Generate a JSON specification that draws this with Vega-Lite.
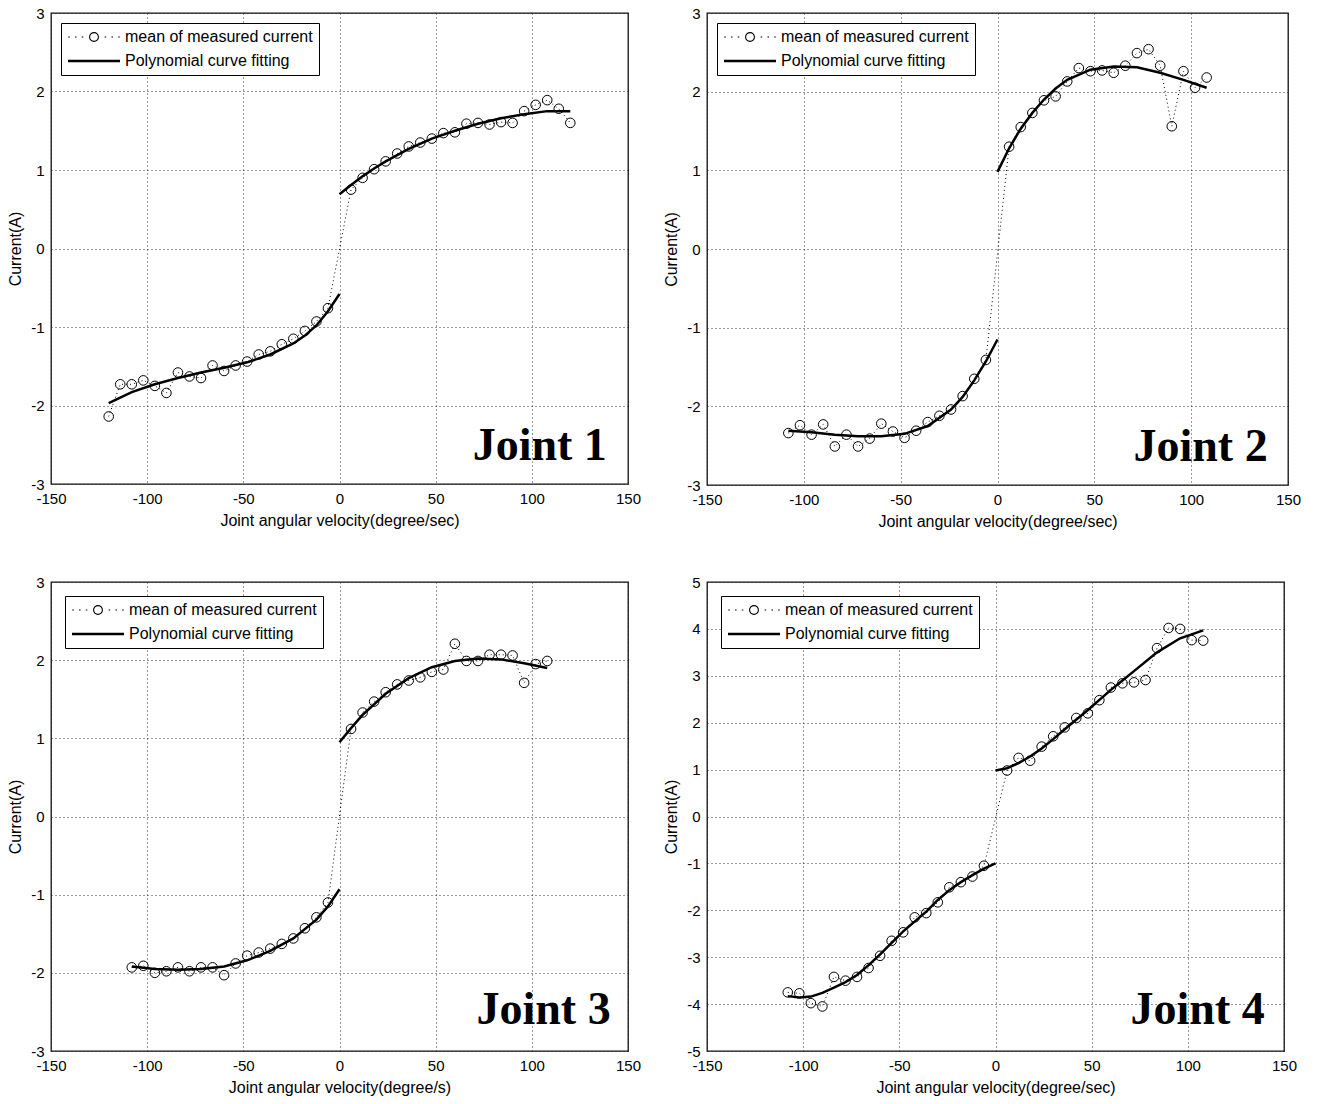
{
  "$schema": "https://vega.github.io/schema/vega-lite/v6.json",
  "background": "white",
  "padding": {"left": 7, "top": 5, "right": 5, "bottom": 5},
  "columns": 2,
  "spacing": {"row": 97, "column": 79},
  "bounds": "flush",
  "resolve": {"scale": {"x": "independent", "y": "independent", "shape": "independent"}, "legend": {"shape": "independent"}},
  "config": {
    "view": {"stroke": "#111", "strokeWidth": 1.3},
    "font": "Liberation Sans",
    "axis": {"grid": true, "gridColor": "#222", "gridDash": [1, 3], "gridWidth": 1, "gridOpacity": 0.9, "ticks": false, "domain": false, "labelFont": "Liberation Sans", "labelFontSize": 15, "labelColor": "black", "titleFont": "Liberation Sans", "titleFontSize": 16, "titleFontWeight": "normal", "titleColor": "black", "labelPadding": 7, "titlePadding": 6, "labelFlush": false, "labelOverlap": false, "labelExpr": "'' + datum.value"},
    "axisY": {"labelPadding": 7, "titlePadding": 7},
    "legend": {"orient": "top-left", "offset": 10, "strokeColor": "black", "fillColor": "white", "padding": 6, "labelFont": "Liberation Sans", "labelFontSize": 16, "labelColor": "black", "labelOffset": 4, "symbolSize": 2704, "clipHeight": 16, "rowPadding": 8, "labelLimit": 400, "symbolStrokeWidth": 1.1, "symbolStrokeColor": "black", "symbolFillColor": "transparent", "symbolOpacity": 1}
  },
  "datasets": {
    "pts": [
      {"j":1,"v":-120,"c":-2.14},{"j":1,"v":-114,"c":-1.73},{"j":1,"v":-108,"c":-1.73},{"j":1,"v":-102,"c":-1.68},{"j":1,"v":-96,"c":-1.75},{"j":1,"v":-90,"c":-1.84},{"j":1,"v":-84,"c":-1.58},{"j":1,"v":-78,"c":-1.63},{"j":1,"v":-72,"c":-1.65},{"j":1,"v":-66,"c":-1.49},{"j":1,"v":-60,"c":-1.56},{"j":1,"v":-54,"c":-1.49},{"j":1,"v":-48,"c":-1.44},{"j":1,"v":-42,"c":-1.35},{"j":1,"v":-36,"c":-1.31},{"j":1,"v":-30,"c":-1.22},{"j":1,"v":-24,"c":-1.15},{"j":1,"v":-18,"c":-1.05},{"j":1,"v":-12,"c":-0.93},{"j":1,"v":-6,"c":-0.76},
      {"j":1,"v":6,"c":0.75},{"j":1,"v":12,"c":0.90},{"j":1,"v":18,"c":1.01},{"j":1,"v":24,"c":1.11},{"j":1,"v":30,"c":1.21},{"j":1,"v":36,"c":1.30},{"j":1,"v":42,"c":1.35},{"j":1,"v":48,"c":1.40},{"j":1,"v":54,"c":1.47},{"j":1,"v":60,"c":1.48},{"j":1,"v":66,"c":1.59},{"j":1,"v":72,"c":1.60},{"j":1,"v":78,"c":1.58},{"j":1,"v":84,"c":1.61},{"j":1,"v":90,"c":1.60},{"j":1,"v":96,"c":1.75},{"j":1,"v":102,"c":1.83},{"j":1,"v":108,"c":1.89},{"j":1,"v":114,"c":1.78},{"j":1,"v":120,"c":1.60},
      {"j":2,"v":-108,"c":-2.34},{"j":2,"v":-102,"c":-2.24},{"j":2,"v":-96,"c":-2.36},{"j":2,"v":-90,"c":-2.23},{"j":2,"v":-84,"c":-2.51},{"j":2,"v":-78,"c":-2.36},{"j":2,"v":-72,"c":-2.51},{"j":2,"v":-66,"c":-2.41},{"j":2,"v":-60,"c":-2.22},{"j":2,"v":-54,"c":-2.32},{"j":2,"v":-48,"c":-2.40},{"j":2,"v":-42,"c":-2.31},{"j":2,"v":-36,"c":-2.20},{"j":2,"v":-30,"c":-2.12},{"j":2,"v":-24,"c":-2.04},{"j":2,"v":-18,"c":-1.87},{"j":2,"v":-12,"c":-1.65},{"j":2,"v":-6,"c":-1.41},
      {"j":2,"v":6,"c":1.30},{"j":2,"v":12,"c":1.55},{"j":2,"v":18,"c":1.73},{"j":2,"v":24,"c":1.89},{"j":2,"v":30,"c":1.94},{"j":2,"v":36,"c":2.13},{"j":2,"v":42,"c":2.30},{"j":2,"v":48,"c":2.26},{"j":2,"v":54,"c":2.27},{"j":2,"v":60,"c":2.24},{"j":2,"v":66,"c":2.33},{"j":2,"v":72,"c":2.49},{"j":2,"v":78,"c":2.54},{"j":2,"v":84,"c":2.33},{"j":2,"v":90,"c":1.56},{"j":2,"v":96,"c":2.26},{"j":2,"v":102,"c":2.05},{"j":2,"v":108,"c":2.18},
      {"j":3,"v":-108,"c":-1.93},{"j":3,"v":-102,"c":-1.91},{"j":3,"v":-96,"c":-2.00},{"j":3,"v":-90,"c":-1.98},{"j":3,"v":-84,"c":-1.93},{"j":3,"v":-78,"c":-1.98},{"j":3,"v":-72,"c":-1.93},{"j":3,"v":-66,"c":-1.93},{"j":3,"v":-60,"c":-2.03},{"j":3,"v":-54,"c":-1.88},{"j":3,"v":-48,"c":-1.78},{"j":3,"v":-42,"c":-1.74},{"j":3,"v":-36,"c":-1.69},{"j":3,"v":-30,"c":-1.63},{"j":3,"v":-24,"c":-1.56},{"j":3,"v":-18,"c":-1.43},{"j":3,"v":-12,"c":-1.29},{"j":3,"v":-6,"c":-1.10},
      {"j":3,"v":6,"c":1.12},{"j":3,"v":12,"c":1.33},{"j":3,"v":18,"c":1.47},{"j":3,"v":24,"c":1.59},{"j":3,"v":30,"c":1.69},{"j":3,"v":36,"c":1.74},{"j":3,"v":42,"c":1.78},{"j":3,"v":48,"c":1.85},{"j":3,"v":54,"c":1.88},{"j":3,"v":60,"c":2.21},{"j":3,"v":66,"c":1.99},{"j":3,"v":72,"c":1.99},{"j":3,"v":78,"c":2.07},{"j":3,"v":84,"c":2.07},{"j":3,"v":90,"c":2.06},{"j":3,"v":96,"c":1.71},{"j":3,"v":102,"c":1.95},{"j":3,"v":108,"c":1.99},
      {"j":4,"v":-108,"c":-3.75},{"j":4,"v":-102,"c":-3.77},{"j":4,"v":-96,"c":-3.98},{"j":4,"v":-90,"c":-4.05},{"j":4,"v":-84,"c":-3.42},{"j":4,"v":-78,"c":-3.50},{"j":4,"v":-72,"c":-3.42},{"j":4,"v":-66,"c":-3.23},{"j":4,"v":-60,"c":-2.97},{"j":4,"v":-54,"c":-2.65},{"j":4,"v":-48,"c":-2.47},{"j":4,"v":-42,"c":-2.15},{"j":4,"v":-36,"c":-2.06},{"j":4,"v":-30,"c":-1.83},{"j":4,"v":-24,"c":-1.51},{"j":4,"v":-18,"c":-1.40},{"j":4,"v":-12,"c":-1.28},{"j":4,"v":-6,"c":-1.05},
      {"j":4,"v":6,"c":0.98},{"j":4,"v":12,"c":1.25},{"j":4,"v":18,"c":1.19},{"j":4,"v":24,"c":1.49},{"j":4,"v":30,"c":1.71},{"j":4,"v":36,"c":1.90},{"j":4,"v":42,"c":2.10},{"j":4,"v":48,"c":2.20},{"j":4,"v":54,"c":2.48},{"j":4,"v":60,"c":2.75},{"j":4,"v":66,"c":2.84},{"j":4,"v":72,"c":2.86},{"j":4,"v":78,"c":2.91},{"j":4,"v":84,"c":3.59},{"j":4,"v":90,"c":4.02},{"j":4,"v":96,"c":4.00},{"j":4,"v":102,"c":3.76},{"j":4,"v":108,"c":3.75}
    ],
    "fit": [
      {"j":1,"b":"n","v":-120,"c":-1.97},{"j":1,"b":"n","v":-108,"c":-1.83},{"j":1,"b":"n","v":-96,"c":-1.73},{"j":1,"b":"n","v":-84,"c":-1.65},{"j":1,"b":"n","v":-72,"c":-1.58},{"j":1,"b":"n","v":-60,"c":-1.52},{"j":1,"b":"n","v":-48,"c":-1.45},{"j":1,"b":"n","v":-36,"c":-1.35},{"j":1,"b":"n","v":-24,"c":-1.21},{"j":1,"b":"n","v":-18,"c":-1.11},{"j":1,"b":"n","v":-12,"c":-0.98},{"j":1,"b":"n","v":-6,"c":-0.80},{"j":1,"b":"n","v":0,"c":-0.58},
      {"j":1,"b":"p","v":0,"c":0.69},{"j":1,"b":"p","v":6,"c":0.81},{"j":1,"b":"p","v":12,"c":0.92},{"j":1,"b":"p","v":18,"c":1.02},{"j":1,"b":"p","v":24,"c":1.11},{"j":1,"b":"p","v":36,"c":1.27},{"j":1,"b":"p","v":48,"c":1.40},{"j":1,"b":"p","v":60,"c":1.50},{"j":1,"b":"p","v":72,"c":1.59},{"j":1,"b":"p","v":84,"c":1.66},{"j":1,"b":"p","v":96,"c":1.71},{"j":1,"b":"p","v":108,"c":1.75},{"j":1,"b":"p","v":120,"c":1.75},
      {"j":2,"b":"n","v":-108,"c":-2.31},{"j":2,"b":"n","v":-96,"c":-2.33},{"j":2,"b":"n","v":-84,"c":-2.36},{"j":2,"b":"n","v":-72,"c":-2.38},{"j":2,"b":"n","v":-60,"c":-2.38},{"j":2,"b":"n","v":-48,"c":-2.35},{"j":2,"b":"n","v":-36,"c":-2.25},{"j":2,"b":"n","v":-24,"c":-2.04},{"j":2,"b":"n","v":-18,"c":-1.88},{"j":2,"b":"n","v":-12,"c":-1.67},{"j":2,"b":"n","v":-6,"c":-1.43},{"j":2,"b":"n","v":0,"c":-1.15},
      {"j":2,"b":"p","v":0,"c":0.98},{"j":2,"b":"p","v":6,"c":1.28},{"j":2,"b":"p","v":12,"c":1.53},{"j":2,"b":"p","v":18,"c":1.73},{"j":2,"b":"p","v":24,"c":1.90},{"j":2,"b":"p","v":30,"c":2.04},{"j":2,"b":"p","v":36,"c":2.15},{"j":2,"b":"p","v":48,"c":2.28},{"j":2,"b":"p","v":60,"c":2.32},{"j":2,"b":"p","v":72,"c":2.31},{"j":2,"b":"p","v":84,"c":2.24},{"j":2,"b":"p","v":96,"c":2.15},{"j":2,"b":"p","v":108,"c":2.05},
      {"j":3,"b":"n","v":-108,"c":-1.92},{"j":3,"b":"n","v":-96,"c":-1.95},{"j":3,"b":"n","v":-84,"c":-1.96},{"j":3,"b":"n","v":-72,"c":-1.95},{"j":3,"b":"n","v":-60,"c":-1.92},{"j":3,"b":"n","v":-48,"c":-1.84},{"j":3,"b":"n","v":-36,"c":-1.72},{"j":3,"b":"n","v":-24,"c":-1.56},{"j":3,"b":"n","v":-12,"c":-1.32},{"j":3,"b":"n","v":-6,"c":-1.15},{"j":3,"b":"n","v":0,"c":-0.93},
      {"j":3,"b":"p","v":0,"c":0.95},{"j":3,"b":"p","v":6,"c":1.13},{"j":3,"b":"p","v":12,"c":1.30},{"j":3,"b":"p","v":24,"c":1.57},{"j":3,"b":"p","v":36,"c":1.77},{"j":3,"b":"p","v":48,"c":1.91},{"j":3,"b":"p","v":60,"c":1.99},{"j":3,"b":"p","v":72,"c":2.02},{"j":3,"b":"p","v":84,"c":2.01},{"j":3,"b":"p","v":96,"c":1.96},{"j":3,"b":"p","v":108,"c":1.90},
      {"j":4,"b":"n","v":-108,"c":-3.83},{"j":4,"b":"n","v":-102,"c":-3.86},{"j":4,"b":"n","v":-96,"c":-3.84},{"j":4,"b":"n","v":-90,"c":-3.76},{"j":4,"b":"n","v":-84,"c":-3.65},{"j":4,"b":"n","v":-78,"c":-3.53},{"j":4,"b":"n","v":-72,"c":-3.38},{"j":4,"b":"n","v":-66,"c":-3.17},{"j":4,"b":"n","v":-60,"c":-2.94},{"j":4,"b":"n","v":-48,"c":-2.45},{"j":4,"b":"n","v":-36,"c":-2.03},{"j":4,"b":"n","v":-30,"c":-1.78},{"j":4,"b":"n","v":-24,"c":-1.57},{"j":4,"b":"n","v":-18,"c":-1.40},{"j":4,"b":"n","v":-12,"c":-1.25},{"j":4,"b":"n","v":-6,"c":-1.11},{"j":4,"b":"n","v":0,"c":-1.00},
      {"j":4,"b":"p","v":0,"c":0.98},{"j":4,"b":"p","v":6,"c":1.03},{"j":4,"b":"p","v":12,"c":1.14},{"j":4,"b":"p","v":18,"c":1.28},{"j":4,"b":"p","v":24,"c":1.45},{"j":4,"b":"p","v":30,"c":1.65},{"j":4,"b":"p","v":36,"c":1.86},{"j":4,"b":"p","v":48,"c":2.27},{"j":4,"b":"p","v":60,"c":2.70},{"j":4,"b":"p","v":66,"c":2.90},{"j":4,"b":"p","v":72,"c":3.10},{"j":4,"b":"p","v":84,"c":3.50},{"j":4,"b":"p","v":96,"c":3.80},{"j":4,"b":"p","v":108,"c":3.97}
    ]
  },
  "concat": [
    {
      "width": 577, "height": 471,
      "layer": [
        {"data": {"name": "pts"}, "transform": [{"filter": "datum.j === 1"}],
         "mark": {"type": "line", "color": "black", "strokeWidth": 1, "strokeDash": [1, 3]},
         "encoding": {
           "x": {"field": "v", "type": "quantitative", "scale": {"domain": [-150, 150], "nice": false, "zero": false}, "axis": {"values": [-150, -100, -50, 0, 50, 100, 150], "title": "Joint angular velocity(degree/sec)"}},
           "y": {"field": "c", "type": "quantitative", "scale": {"domain": [-3, 3], "nice": false, "zero": false}, "axis": {"values": [-3, -2, -1, 0, 1, 2, 3], "title": "Current(A)"}}
         }},
        {"data": {"name": "pts"}, "transform": [{"filter": "datum.j === 1"}],
         "mark": {"type": "point", "shape": "circle", "size": 92, "filled": false, "color": "black", "strokeWidth": 1, "opacity": 1},
         "encoding": {"x": {"field": "v", "type": "quantitative"}, "y": {"field": "c", "type": "quantitative"}}},
        {"data": {"name": "fit"}, "transform": [{"filter": "datum.j === 1"}],
         "mark": {"type": "line", "color": "black", "strokeWidth": 2.5},
         "encoding": {"x": {"field": "v", "type": "quantitative"}, "y": {"field": "c", "type": "quantitative"}, "detail": {"field": "b"}}},
        {"data": {"name": "pts"}, "transform": [{"filter": "datum.j === 1"}],
         "mark": {"type": "point", "filled": false, "color": "black", "opacity": 0},
         "encoding": {"x": {"field": "v", "type": "quantitative"}, "y": {"field": "c", "type": "quantitative"},
           "shape": {"datum": "mean of measured current", "scale": {"domain": ["mean of measured current", "Polynomial curve fitting"], "range": ["M-0.99,0h0.06M-0.73,0h0.06M-0.47,0h0.06M0.41,0h0.06M0.67,0h0.06M0.93,0h0.06M-0.17,0a0.17,0.17 0 1,0 0.34,0a0.17,0.17 0 1,0 -0.34,0", "M-1,-0.03L1,-0.03M-1,0L1,0M-1,0.03L1,0.03"]}, "legend": {"title": null, "offset": 10}}}},
        {"data": {"values": [{"label": "Joint 1"}]},
         "mark": {"type": "text", "font": "Liberation Serif", "fontSize": 46, "fontWeight": "bold", "align": "right", "baseline": "alphabetic", "color": "black"},
         "encoding": {"x": {"datum": 139, "type": "quantitative"}, "y": {"datum": -2.69, "type": "quantitative"}, "text": {"field": "label"}}}
      ]
    },
    {
      "width": 581, "height": 472,
      "layer": [
        {"data": {"name": "pts"}, "transform": [{"filter": "datum.j === 2"}],
         "mark": {"type": "line", "color": "black", "strokeWidth": 1, "strokeDash": [1, 3]},
         "encoding": {
           "x": {"field": "v", "type": "quantitative", "scale": {"domain": [-150, 150], "nice": false, "zero": false}, "axis": {"values": [-150, -100, -50, 0, 50, 100, 150], "title": "Joint angular velocity(degree/sec)"}},
           "y": {"field": "c", "type": "quantitative", "scale": {"domain": [-3, 3], "nice": false, "zero": false}, "axis": {"values": [-3, -2, -1, 0, 1, 2, 3], "title": "Current(A)"}}
         }},
        {"data": {"name": "pts"}, "transform": [{"filter": "datum.j === 2"}],
         "mark": {"type": "point", "shape": "circle", "size": 92, "filled": false, "color": "black", "strokeWidth": 1, "opacity": 1},
         "encoding": {"x": {"field": "v", "type": "quantitative"}, "y": {"field": "c", "type": "quantitative"}}},
        {"data": {"name": "fit"}, "transform": [{"filter": "datum.j === 2"}],
         "mark": {"type": "line", "color": "black", "strokeWidth": 2.5},
         "encoding": {"x": {"field": "v", "type": "quantitative"}, "y": {"field": "c", "type": "quantitative"}, "detail": {"field": "b"}}},
        {"data": {"name": "pts"}, "transform": [{"filter": "datum.j === 2"}],
         "mark": {"type": "point", "filled": false, "color": "black", "opacity": 0},
         "encoding": {"x": {"field": "v", "type": "quantitative"}, "y": {"field": "c", "type": "quantitative"},
           "shape": {"datum": "mean of measured current", "scale": {"domain": ["mean of measured current", "Polynomial curve fitting"], "range": ["M-0.99,0h0.06M-0.73,0h0.06M-0.47,0h0.06M0.41,0h0.06M0.67,0h0.06M0.93,0h0.06M-0.17,0a0.17,0.17 0 1,0 0.34,0a0.17,0.17 0 1,0 -0.34,0", "M-1,-0.03L1,-0.03M-1,0L1,0M-1,0.03L1,0.03"]}, "legend": {"title": null, "offset": 10}}}},
        {"data": {"values": [{"label": "Joint 2"}]},
         "mark": {"type": "text", "font": "Liberation Serif", "fontSize": 46, "fontWeight": "bold", "align": "right", "baseline": "alphabetic", "color": "black"},
         "encoding": {"x": {"datum": 139.5, "type": "quantitative"}, "y": {"datum": -2.7, "type": "quantitative"}, "text": {"field": "label"}}}
      ]
    },
    {
      "width": 577, "height": 469,
      "layer": [
        {"data": {"name": "pts"}, "transform": [{"filter": "datum.j === 3"}],
         "mark": {"type": "line", "color": "black", "strokeWidth": 1, "strokeDash": [1, 3]},
         "encoding": {
           "x": {"field": "v", "type": "quantitative", "scale": {"domain": [-150, 150], "nice": false, "zero": false}, "axis": {"values": [-150, -100, -50, 0, 50, 100, 150], "title": "Joint angular velocity(degree/s)"}},
           "y": {"field": "c", "type": "quantitative", "scale": {"domain": [-3, 3], "nice": false, "zero": false}, "axis": {"values": [-3, -2, -1, 0, 1, 2, 3], "title": "Current(A)"}}
         }},
        {"data": {"name": "pts"}, "transform": [{"filter": "datum.j === 3"}],
         "mark": {"type": "point", "shape": "circle", "size": 92, "filled": false, "color": "black", "strokeWidth": 1, "opacity": 1},
         "encoding": {"x": {"field": "v", "type": "quantitative"}, "y": {"field": "c", "type": "quantitative"}}},
        {"data": {"name": "fit"}, "transform": [{"filter": "datum.j === 3"}],
         "mark": {"type": "line", "color": "black", "strokeWidth": 2.5},
         "encoding": {"x": {"field": "v", "type": "quantitative"}, "y": {"field": "c", "type": "quantitative"}, "detail": {"field": "b"}}},
        {"data": {"name": "pts"}, "transform": [{"filter": "datum.j === 3"}],
         "mark": {"type": "point", "filled": false, "color": "black", "opacity": 0},
         "encoding": {"x": {"field": "v", "type": "quantitative"}, "y": {"field": "c", "type": "quantitative"},
           "shape": {"datum": "mean of measured current", "scale": {"domain": ["mean of measured current", "Polynomial curve fitting"], "range": ["M-0.99,0h0.06M-0.73,0h0.06M-0.47,0h0.06M0.41,0h0.06M0.67,0h0.06M0.93,0h0.06M-0.17,0a0.17,0.17 0 1,0 0.34,0a0.17,0.17 0 1,0 -0.34,0", "M-1,-0.03L1,-0.03M-1,0L1,0M-1,0.03L1,0.03"]}, "legend": {"title": null, "offset": 14}}}},
        {"data": {"values": [{"label": "Joint 3"}]},
         "mark": {"type": "text", "font": "Liberation Serif", "fontSize": 46, "fontWeight": "bold", "align": "right", "baseline": "alphabetic", "color": "black"},
         "encoding": {"x": {"datum": 141, "type": "quantitative"}, "y": {"datum": -2.66, "type": "quantitative"}, "text": {"field": "label"}}}
      ]
    },
    {
      "width": 577, "height": 469,
      "layer": [
        {"data": {"name": "pts"}, "transform": [{"filter": "datum.j === 4"}],
         "mark": {"type": "line", "color": "black", "strokeWidth": 1, "strokeDash": [1, 3]},
         "encoding": {
           "x": {"field": "v", "type": "quantitative", "scale": {"domain": [-150, 150], "nice": false, "zero": false}, "axis": {"values": [-150, -100, -50, 0, 50, 100, 150], "title": "Joint angular velocity(degree/sec)"}},
           "y": {"field": "c", "type": "quantitative", "scale": {"domain": [-5, 5], "nice": false, "zero": false}, "axis": {"values": [-5, -4, -3, -2, -1, 0, 1, 2, 3, 4, 5], "title": "Current(A)"}}
         }},
        {"data": {"name": "pts"}, "transform": [{"filter": "datum.j === 4"}],
         "mark": {"type": "point", "shape": "circle", "size": 92, "filled": false, "color": "black", "strokeWidth": 1, "opacity": 1},
         "encoding": {"x": {"field": "v", "type": "quantitative"}, "y": {"field": "c", "type": "quantitative"}}},
        {"data": {"name": "fit"}, "transform": [{"filter": "datum.j === 4"}],
         "mark": {"type": "line", "color": "black", "strokeWidth": 2.5},
         "encoding": {"x": {"field": "v", "type": "quantitative"}, "y": {"field": "c", "type": "quantitative"}, "detail": {"field": "b"}}},
        {"data": {"name": "pts"}, "transform": [{"filter": "datum.j === 4"}],
         "mark": {"type": "point", "filled": false, "color": "black", "opacity": 0},
         "encoding": {"x": {"field": "v", "type": "quantitative"}, "y": {"field": "c", "type": "quantitative"},
           "shape": {"datum": "mean of measured current", "scale": {"domain": ["mean of measured current", "Polynomial curve fitting"], "range": ["M-0.99,0h0.06M-0.73,0h0.06M-0.47,0h0.06M0.41,0h0.06M0.67,0h0.06M0.93,0h0.06M-0.17,0a0.17,0.17 0 1,0 0.34,0a0.17,0.17 0 1,0 -0.34,0", "M-1,-0.03L1,-0.03M-1,0L1,0M-1,0.03L1,0.03"]}, "legend": {"title": null, "offset": 14}}}},
        {"data": {"values": [{"label": "Joint 4"}]},
         "mark": {"type": "text", "font": "Liberation Serif", "fontSize": 46, "fontWeight": "bold", "align": "right", "baseline": "alphabetic", "color": "black"},
         "encoding": {"x": {"datum": 140, "type": "quantitative"}, "y": {"datum": -4.42, "type": "quantitative"}, "text": {"field": "label"}}}
      ]
    }
  ]
}
